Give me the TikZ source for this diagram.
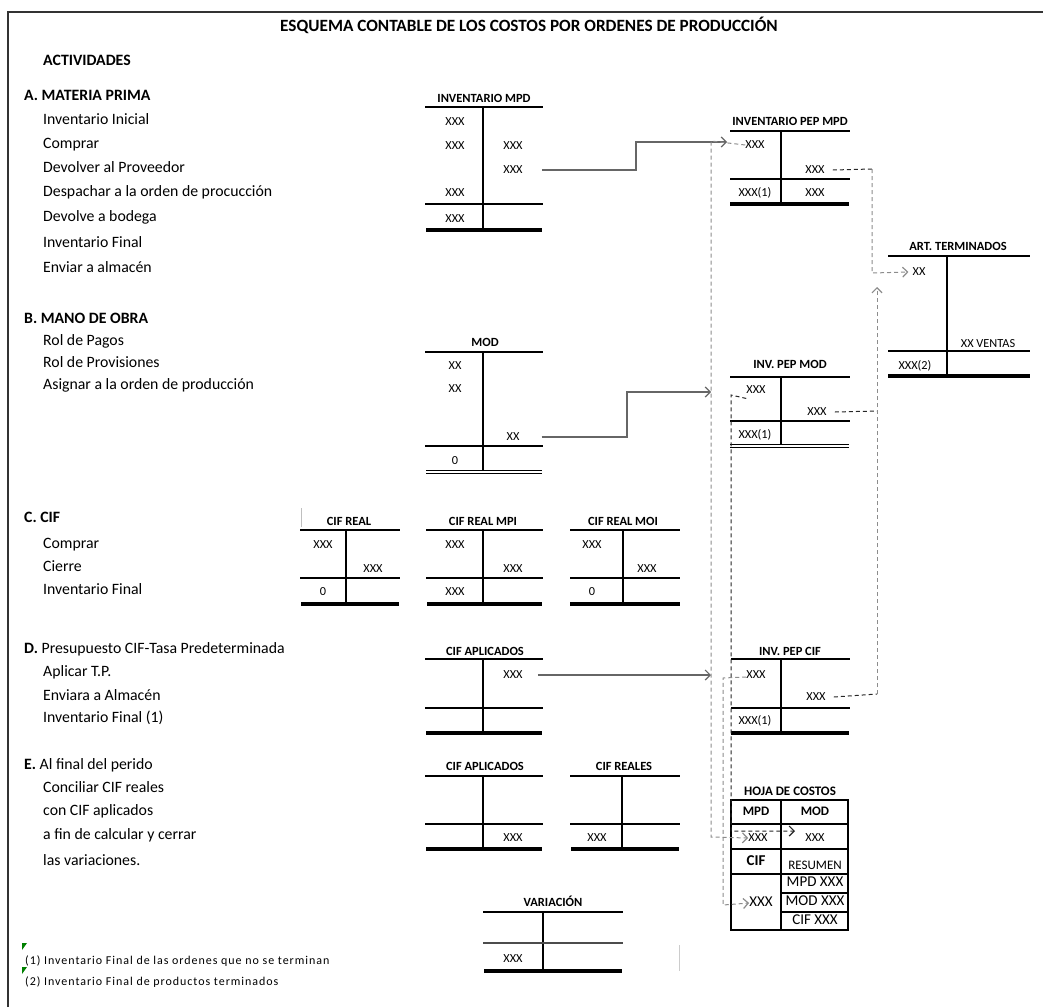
\documentclass[tikz,border=0pt]{standalone}
\usepackage{fontspec}
\usetikzlibrary{arrows.meta}
\setmainfont{Carlito}
\newfontfamily\footfont[LetterSpace=8]{Carlito}
\begin{document}
\begin{tikzpicture}[x=1pt,y=-1pt,
  lbl/.style={anchor=west, inner sep=0pt, text height=0.65em, text depth=0pt, font=\fontsize{15.8}{18}\selectfont},
  head/.style={lbl, font=\bfseries\fontsize{15.8}{18}\selectfont},
  xx/.style={inner sep=0pt, text height=0.65em, text depth=0pt, font=\fontsize{12.3}{14}\selectfont},
  ttl/.style={inner sep=0pt, text height=0.65em, text depth=0pt, font=\bfseries\fontsize{12.5}{14}\selectfont},
  topl/.style={line width=2pt},
  vl/.style={line width=1.2pt},
  midl/.style={line width=1.2pt},
  midt/.style={line width=2pt},
  botl/.style={line width=3.5pt},
  dbl/.style={double, double distance=1.6pt, line width=0.8pt},
  arr/.style={-{Straight Barb[length=5pt,width=10pt,line width=1.2pt]}},
  flow/.style={draw=black!60, line width=1.6pt, arr},
  dshg/.style={draw=black!45, dash pattern=on 4pt off 3pt, line width=1pt},
  dshk/.style={draw=black!85, dash pattern=on 4pt off 3pt, line width=1pt}
]
\useasboundingbox (0,0) rectangle (1043,1007);
% frame
\draw[line width=1.5pt, black!80] (8,1007) -- (8,12) -- (1043,12);

% title
\node[inner sep=0pt, text height=0.65em, text depth=0pt, font=\bfseries\fontsize{17.2}{20}\selectfont] (title) at (529,28) {ESQUEMA CONTABLE DE LOS COSTOS POR ORDENES DE PRODUCCIÓN};

% left texts
\node[head] (act) at (43,62) {ACTIVIDADES};
\node[head] (secA) at (24,97) {A. MATERIA PRIMA};
\node[lbl] (a1) at (43,121) {Inventario Inicial};
\node[lbl] (a2) at (43,145) {Comprar};
\node[lbl] (a3) at (43,169) {Devolver al Proveedor};
\node[lbl] (a4) at (43,193) {Despachar a la orden de procucción};
\node[lbl] (a5) at (43,218) {Devolve a bodega};
\node[lbl] (a6) at (43,244) {Inventario Final};
\node[lbl] (a7) at (43,269) {Enviar a almacén};
\node[head] (secB) at (24,320) {B. MANO DE OBRA};
\node[lbl] (b1) at (43,342) {Rol de Pagos};
\node[lbl] (b2) at (43,364) {Rol de Provisiones};
\node[lbl] (b3) at (43,386) {Asignar a la orden de producción};
\node[head] (secC) at (24,519) {C. CIF};
\node[lbl] (c1) at (43,545) {Comprar};
\node[lbl] (c2) at (43,568) {Cierre};
\node[lbl] (c3) at (43,591) {Inventario Final};
\node[lbl] (secD) at (24,650) {\textbf{D.} Presupuesto CIF-Tasa Predeterminada};
\node[lbl] (d1) at (43,673) {Aplicar T.P.};
\node[lbl] (d2) at (43,697) {Enviara a Almacén};
\node[lbl] (d3) at (43,719) {Inventario Final (1)};
\node[lbl] (secE) at (24,766) {\textbf{E.} Al final del perido};
\node[lbl] (e1) at (43,789) {Conciliar CIF reales};
\node[lbl] (e2) at (43,812) {con CIF aplicados};
\node[lbl] (e3) at (43,836) {a fin de calcular y cerrar};
\node[lbl] (e4) at (43,862) {las variaciones.};

% footnotes
\fill[green!50!black] (22,943) -- (27,943) -- (22,950) -- cycle;
\fill[green!50!black] (22,967) -- (27,967) -- (22,974) -- cycle;
\node[lbl, font=\footfont\fontsize{12}{14}\selectfont] (f1) at (25,961) {(1) Inventario Final de las ordenes que no se terminan};
\node[lbl, font=\footfont\fontsize{12}{14}\selectfont] (f2) at (25,982) {(2) Inventario Final de productos terminados};

% INVENTARIO MPD
\node[ttl] (tMPD) at (484,99) {INVENTARIO MPD};
\draw[topl] (425,107) -- (543,107);
\draw[vl] (483,107) -- (483,229);
\draw[midl] (425,204) -- (543,204);
\draw[botl] (426,230) -- (542,230);
\node[xx] (m1) at (455,122) {XXX};
\node[xx] (m2) at (455,146) {XXX};
\node[xx] (m3) at (513,146) {XXX};
\node[xx] (m4) at (513,170) {XXX};
\node[xx] (m5) at (455,193) {XXX};
\node[xx] (m6) at (455,219) {XXX};

% MOD
\node[ttl] (tMOD) at (485,343) {MOD};
\draw[topl] (425,352) -- (543,352);
\draw[vl] (483,352) -- (483,471);
\draw[midl] (425,446) -- (543,446);
\draw[dbl] (426,472) -- (542,472);
\node[xx] (o1) at (455,366) {XX};
\node[xx] (o2) at (455,389) {XX};
\node[xx] (o3) at (513,437) {XX};
\node[xx] (o4) at (455,461) {0};

% INVENTARIO PEP MPD
\node[ttl] (tPM) at (790,122) {INVENTARIO PEP MPD};
\draw[topl] (730,131) -- (850,131);
\draw[vl] (781,131) -- (781,204);
\draw[midl] (730,179) -- (850,179);
\draw[botl] (730,204) -- (849,204);
\node[xx] (pm1) at (755,145) {XXX};
\node[xx] (pm2) at (815,170) {XXX};
\node[xx] (pm3) at (755,193) {XXX(1)};
\node[xx] (pm4) at (815,193) {XXX};

% ART. TERMINADOS
\node[ttl] (tAT) at (958,247) {ART. TERMINADOS};
\draw[topl] (888,256) -- (1030,256);
\draw[vl] (947,256) -- (947,375);
\draw[midl] (888,351) -- (1030,351);
\draw[botl] (888,376) -- (1030,376);
\node[xx] (at1) at (919,272) {XX};
\node[xx] (at2) at (988,344) {XX VENTAS};
\node[xx] (at3) at (915,366) {XXX(2)};

% INV. PEP MOD
\node[ttl] (tPD) at (790,365) {INV. PEP MOD};
\draw[topl] (730,377) -- (850,377);
\draw[vl] (781,377) -- (781,445);
\draw[midl] (730,421) -- (850,421);
\draw[dbl] (730,446) -- (849,446);
\node[xx] (pd1) at (756,390) {XXX};
\node[xx] (pd2) at (817,412) {XXX};
\node[xx] (pd3) at (755,435) {XXX(1)};

% CIF REAL
\draw[black!25, line width=0.8pt] (301,508) -- (301,527);
\node[ttl] (tCR) at (349,522) {CIF REAL};
\draw[topl] (300,530) -- (400,530);
\draw[vl] (346,530) -- (346,604);
\draw[midt] (300,578) -- (400,578);
\draw[botl] (301,604) -- (399,604);
\node[xx] (cr1) at (323,545) {XXX};
\node[xx] (cr2) at (373,569) {XXX};
\node[xx] (cr3) at (323,592) {0};

% CIF REAL MPI
\node[ttl] (tCRP) at (483,522) {CIF REAL MPI};
\draw[topl] (426,530) -- (543,530);
\draw[vl] (483,530) -- (483,604);
\draw[midt] (426,578) -- (543,578);
\draw[botl] (427,604) -- (542,604);
\node[xx] (cp1) at (455,545) {XXX};
\node[xx] (cp2) at (513,569) {XXX};
\node[xx] (cp3) at (455,592) {XXX};

% CIF REAL MOI
\node[ttl] (tCRO) at (623,522) {CIF REAL MOI};
\draw[topl] (570,530) -- (680,530);
\draw[line width=2pt] (623,530) -- (623,604);
\draw[midt] (570,578) -- (680,578);
\draw[botl] (570,604) -- (680,604);
\node[xx] (co1) at (592,545) {XXX};
\node[xx] (co2) at (647,569) {XXX};
\node[xx] (co3) at (592,592) {0};

% CIF APLICADOS (D)
\node[ttl] (tCA) at (485,652) {CIF APLICADOS};
\draw[topl] (425,659) -- (543,659);
\draw[vl] (483,659) -- (483,733);
\draw[midt] (425,708) -- (543,708);
\draw[botl] (426,733) -- (542,733);
\node[xx] (ca1) at (513,675) {XXX};

% INV. PEP CIF
\node[ttl] (tPC) at (790,652) {INV. PEP CIF};
\draw[topl] (731,659) -- (850,659);
\draw[vl] (781,659) -- (781,732);
\draw[midt] (731,708) -- (850,708);
\draw[botl] (731,733) -- (849,733);
\node[xx] (pc1) at (756,675) {XXX};
\node[xx] (pc2) at (816,697) {XXX};
\node[xx] (pc3) at (755,721) {XXX(1)};

% CIF APLICADOS (E)
\node[ttl] (tCA2) at (485,767) {CIF APLICADOS};
\draw[topl] (425,776) -- (543,776);
\draw[vl] (483,776) -- (483,849);
\draw[midl] (425,824) -- (543,824);
\draw[botl] (426,849) -- (542,849);
\node[xx] (ce1) at (513,838) {XXX};

% CIF REALES
\node[ttl] (tCRS) at (624,767) {CIF REALES};
\draw[topl] (570,776) -- (680,776);
\draw[line width=2pt] (622,776) -- (622,849);
\draw[midl] (570,824) -- (680,824);
\draw[botl] (571,849) -- (679,849);
\node[xx] (cs1) at (597,838) {XXX};

% VARIACION
\node[ttl] (tVA) at (553,903) {VARIACIÓN};
\draw[topl] (483,912) -- (623,912);
\draw[line width=2pt] (543,912) -- (543,971);
\draw[midl, black!70] (483,943) -- (623,943);
\draw[botl] (484,971) -- (622,971);
\node[xx] (va1) at (513,959) {XXX};
\draw[black!20, line width=1pt] (679,945) -- (679,971);

% HOJA DE COSTOS
\node[ttl, font=\bfseries\fontsize{13}{15}\selectfont] (tHC) at (790,792) {HOJA DE COSTOS};
\draw[line width=1.2pt] (731,800) rectangle (848,930);
\draw[line width=2pt] (848,800) -- (848,930);
\draw[line width=1.2pt] (781,800) -- (781,930);
\draw[line width=1.2pt] (731,824) -- (848,824);
\draw[line width=2pt] (731,849) -- (848,849);
\draw[line width=1.2pt] (731,874) -- (848,874);
\draw[line width=1.2pt] (781,893) -- (848,893);
\draw[line width=1.2pt] (781,912) -- (848,912);
\node[ttl, font=\bfseries\fontsize{13}{15}\selectfont] (h1) at (756,812) {MPD};
\node[ttl, font=\bfseries\fontsize{13}{15}\selectfont] (h2) at (815,812) {MOD};
\node[xx] (h3) at (758,838) {XXX};
\node[xx] (h4) at (815,838) {XXX};
\node[ttl, font=\bfseries\fontsize{15}{17}\selectfont] (h5) at (756,862) {CIF};
\node[xx, font=\fontsize{13}{15}\selectfont] (h6) at (815,866) {RESUMEN};
\node[xx, font=\fontsize{15}{17}\selectfont] (h7) at (815,883) {MPD XXX};
\node[xx, font=\fontsize{15}{17}\selectfont] (h8) at (815,902) {MOD XXX};
\node[xx, font=\fontsize{15}{17}\selectfont] (h9) at (815,921) {CIF XXX};
\node[xx, font=\fontsize{15}{17}\selectfont] (h10) at (761,903) {XXX};

% solid flows
\coordinate (inPM) at (727,142);
\coordinate (inPD) at (711,392);
\coordinate (inPC) at (711,675);
\draw[flow] ([xshift=19pt]m4.east) -- (636,170) -- (636,142) -- (inPM);
\draw[flow] ([xshift=22pt]o3.east) -- (627,437) -- (627,392) -- (inPD);
\draw[flow] ([xshift=15pt]ca1.east) -- (inPC);

% dashed flows to hoja de costos
\draw[dshg, arr] (pm1.west) -- (711,141) -- (711,837) -- (h3.west);
\draw[dshk, arr] ([yshift=-5pt]pd1.south west) -- (731,395) -- (731,831) -- (795,831);
\draw[dshg, arr] ([yshift=-2pt]pc1.west) -- (723,678) -- (723,905) -- (h10.west);

% dashed flows to art. terminados
\draw[dshk] ([xshift=8pt]pm2.east) -- (872,169);
\draw[dshg, arr] (872,169) -- (872,273) -- ([xshift=-4pt]at1.west);
\draw[dshk] ([xshift=8pt]pd2.east) -- (877,411);
\draw[dshk] ([xshift=8pt]pc2.east) -- (877,694);
\draw[dshg, arr] (877,694) -- (877,287);
\end{tikzpicture}
\end{document}
